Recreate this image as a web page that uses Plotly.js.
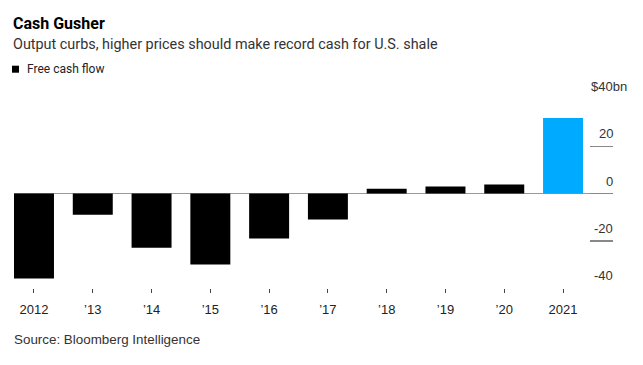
<!DOCTYPE html>
<html>
<head>
<meta charset="utf-8">
<script src="https://cdn.plot.ly/plotly-3.0.1.min.js"></script>
<style>html,body{margin:0;padding:0;background:#fff;}#chart{width:643px;height:365px;}</style>
</head>
<body>
<div id="chart"></div>
<script>
// ---- data ----
const years = ['2012', '\u201913', '\u201914', '\u201915', '\u201916', '\u201917', '\u201918', '\u201919', '\u201920', '2021'];
const freeCashFlow = [-36, -9, -23, -30, -19, -11, 2, 3, 3.8, 32];
const highlightYear = '2021';
const yTickVals = [-40, -20, 0, 20, 40];
const yTickText = ['-40', '-20', '0', '20', '$40bn'];
const titleText = 'Cash Gusher';
const subtitleText = 'Output curbs, higher prices should make record cash for U.S. shale';
const legendText = 'Free cash flow';
const sourceText = 'Source: Bloomberg Intelligence';

// ---- layout helpers (pixel -> paper) ----
const W = 643, H = 365;
const M = {l: 14, r: 30, t: 99, b: 77};
const PW = W - M.l - M.r, PH = H - M.t - M.b;
const px = x => (x - M.l) / PW;
const py = y => (H - M.b - y) / PH;

const FONT = 'Liberation Sans, Arial, Helvetica, sans-serif';
const FONT2 = 'Roboto, Liberation Sans, Arial, sans-serif';
const barColors = years.map(y => y === highlightYear ? '#00aaff' : '#000000');

const trace = {
  type: 'bar',
  x: years,
  y: freeCashFlow,
  marker: {color: barColors, line: {width: 0}},
  width: 0.68,
  hoverinfo: 'x+y',
  showlegend: false,
  cliponaxis: false
};

const annotations = [
  {text: '<b>' + titleText + '</b>', x: px(11), y: py(23), xref: 'paper', yref: 'paper', xanchor: 'left', yanchor: 'middle', showarrow: false, font: {family: FONT2, size: 16, color: '#000'}},
  {text: subtitleText, x: px(11), y: py(45), xref: 'paper', yref: 'paper', xanchor: 'left', yanchor: 'middle', showarrow: false, font: {family: FONT2, size: 14.4, color: '#333'}},
  {text: legendText, x: px(25), y: py(69), xref: 'paper', yref: 'paper', xanchor: 'left', yanchor: 'middle', showarrow: false, font: {family: FONT2, size: 12, color: '#222'}},
  {text: sourceText, x: px(12), y: py(339), xref: 'paper', yref: 'paper', xanchor: 'left', yanchor: 'middle', showarrow: false, font: {family: FONT, size: 13.4, color: '#333'}}
];
yTickVals.forEach((v, i) => {
  const last = i === yTickVals.length - 1;
  annotations.push({
    text: yTickText[i], x: 1, xref: 'paper', y: v, yref: 'y',
    xanchor: last ? 'left' : 'right', xshift: last ? -24 : 2,
    yanchor: 'bottom', yshift: 3, showarrow: false,
    font: {family: FONT, size: 13, color: '#333'}
  });
});

const layout = {
  width: W, height: H,
  margin: M,
  paper_bgcolor: '#fff', plot_bgcolor: '#fff',
  font: {family: FONT, size: 13, color: '#333'},
  bargap: 0.32,
  xaxis: {
    type: 'category',
    range: [-0.34, 9.85],
    showgrid: false, zeroline: false, showline: false,
    ticks: 'outside', ticklen: 4, tickwidth: 1, tickcolor: '#444',
    ticklabelstandoff: 5,
    tickfont: {family: FONT, size: 13, color: '#222'},
    fixedrange: true
  },
  yaxis: {
    side: 'right',
    range: [-40, 40],
    tickvals: yTickVals,
    showticklabels: false,
    ticks: 'inside', ticklen: 23, tickwidth: 1.5, tickcolor: '#888',
    showgrid: false, showline: false,
    zeroline: true, zerolinecolor: '#999', zerolinewidth: 1.5,
    fixedrange: true
  },
  shapes: [
    {type: 'rect', xref: 'paper', yref: 'paper', x0: px(12), x1: px(19), y0: py(72.7), y1: py(65.7), fillcolor: '#000', line: {width: 0}}
  ],
  annotations: annotations,
  showlegend: false
};

Plotly.newPlot('chart', [trace], layout, {displayModeBar: false, staticPlot: true});
</script>
</body>
</html>
